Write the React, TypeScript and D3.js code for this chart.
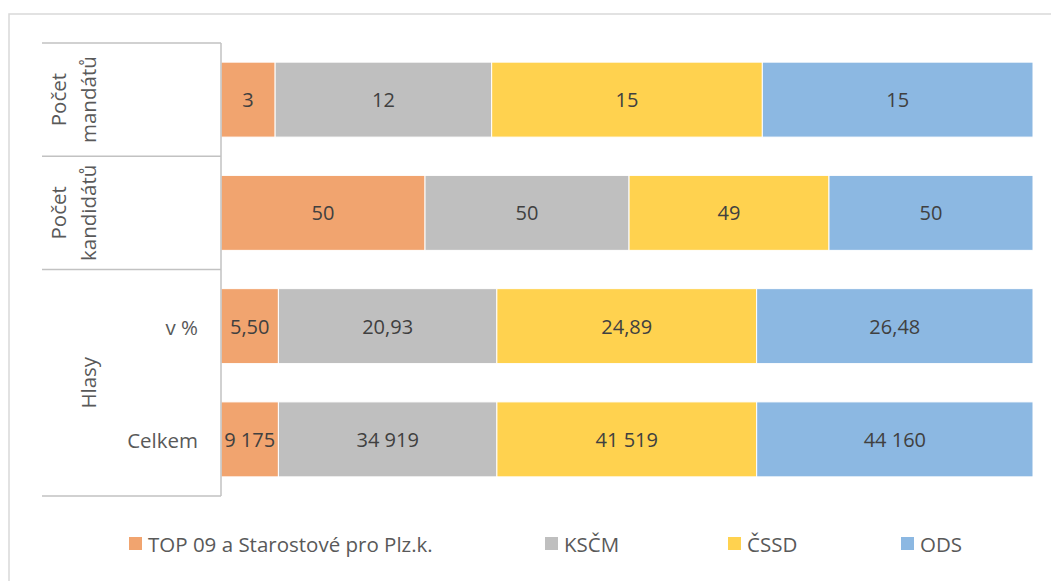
import React from "react";
import * as d3 from "d3";

const series = ["TOP 09 a Starostové pro Plz.k.", "KSČM", "ČSSD", "ODS"];
const colors = ["#F1A46F", "#BFBFBF", "#FFD24F", "#8CB8E2"];
const rows = ["mandaty", "kandidati", "procenta", "celkem"];
const mandaty = [3, 12, 15, 15];
const kandidati = [50, 50, 49, 50];
const procenta = [5.5, 20.93, 24.89, 26.48];
const celkem = [9175, 34919, 41519, 44160];
const rowValues = [mandaty, kandidati, procenta, celkem];
const rowFormats = [
  (v: number) => String(v),
  (v: number) => String(v),
  (v: number) => v.toFixed(2).replace(".", ","),
  (v: number) => d3.format(",")(v).replace(/,/g, " "),
];

const W = 1051;
const H = 581;
const FONT = "'Open Sans', sans-serif";

export default function App() {
  const x = d3.scaleLinear().domain([0, 1]).range([221, 1033]);
  const y = d3
    .scaleBand<string>()
    .domain(rows)
    .range([43, 496])
    .paddingInner(0.338)
    .paddingOuter(0.169);

  const lineColor = "#C2C2C2";
  const sepYs = [43, y("kandidati")! - y.step() * y.paddingInner() / 2, y("procenta")! - y.step() * y.paddingInner() / 2, 496];

  const legendX = [129, 545, 728, 901];

  return (
    <svg
      width={W}
      height={H}
      style={{ position: "absolute", left: 0, top: 0, fontFamily: FONT }}
    >
      <rect x={0} y={0} width={W} height={H} fill="#fff" />
      <rect x={9} y={14} width={W + 20} height={H + 20} fill="none" stroke="#D9D9D9" strokeWidth={1.5} />

      {rows.map((r, ri) => {
        const vals = rowValues[ri];
        const total = d3.sum(vals);
        let acc = 0;
        return (
          <g key={r}>
            {vals.map((v, si) => {
              const x0 = x(acc / total);
              acc += v;
              const x1 = x(acc / total);
              return (
                <g key={si}>
                  <rect
                    x={x0}
                    y={y(r)!}
                    width={x1 - x0}
                    height={y.bandwidth()}
                    fill={colors[si]}
                    stroke="#fff"
                    strokeWidth={1}
                  />
                  <text
                    x={(x0 + x1) / 2}
                    y={y(r)! + y.bandwidth() / 2}
                    textAnchor="middle"
                    dominantBaseline="central"
                    fontSize={20}
                    fill="#404040"
                  >
                    {rowFormats[ri](v)}
                  </text>
                </g>
              );
            })}
          </g>
        );
      })}

      {/* category axis box */}
      {sepYs.map((sy, i) => (
        <line key={i} x1={42} x2={221} y1={sy} y2={sy} stroke={lineColor} strokeWidth={1.5} />
      ))}
      <line x1={221} x2={221} y1={43} y2={496} stroke={lineColor} strokeWidth={1.5} />

      {/* rotated group labels */}
      {[
        { lines: ["Počet", "mandátů"], cy: (sepYs[0] + sepYs[1]) / 2 },
        { lines: ["Počet", "kandidátů"], cy: (sepYs[1] + sepYs[2]) / 2 },
      ].map((g, gi) => (
        <text
          key={gi}
          transform={`translate(74,${g.cy}) rotate(-90)`}
          textAnchor="middle"
          fontSize={20.5}
          fill="#595959"
        >
          <tspan x={0} y={-8}>{g.lines[0]}</tspan>
          <tspan x={0} y={21.5}>{g.lines[1]}</tspan>
        </text>
      ))}
      <text
        transform={`translate(88,${(sepYs[2] + sepYs[3]) / 2}) rotate(-90)`}
        textAnchor="middle"
        dominantBaseline="central"
        fontSize={20.5}
        fill="#595959"
      >
        Hlasy
      </text>
      {[
        { t: "v %", r: "procenta" },
        { t: "Celkem", r: "celkem" },
      ].map((s) => (
        <text
          key={s.r}
          x={198}
          y={y(s.r)! + y.bandwidth() / 2 + 1}
          textAnchor="end"
          dominantBaseline="central"
          fontSize={20.5}
          fill="#595959"
        >
          {s.t}
        </text>
      ))}

      {/* legend */}
      {series.map((s, i) => (
        <g key={s}>
          <rect x={legendX[i]} y={537} width={13} height={13} fill={colors[i]} />
          <text x={legendX[i] + 19} y={544} dominantBaseline="central" fontSize={20.5} fill="#595959">
            {s}
          </text>
        </g>
      ))}
    </svg>
  );
}
